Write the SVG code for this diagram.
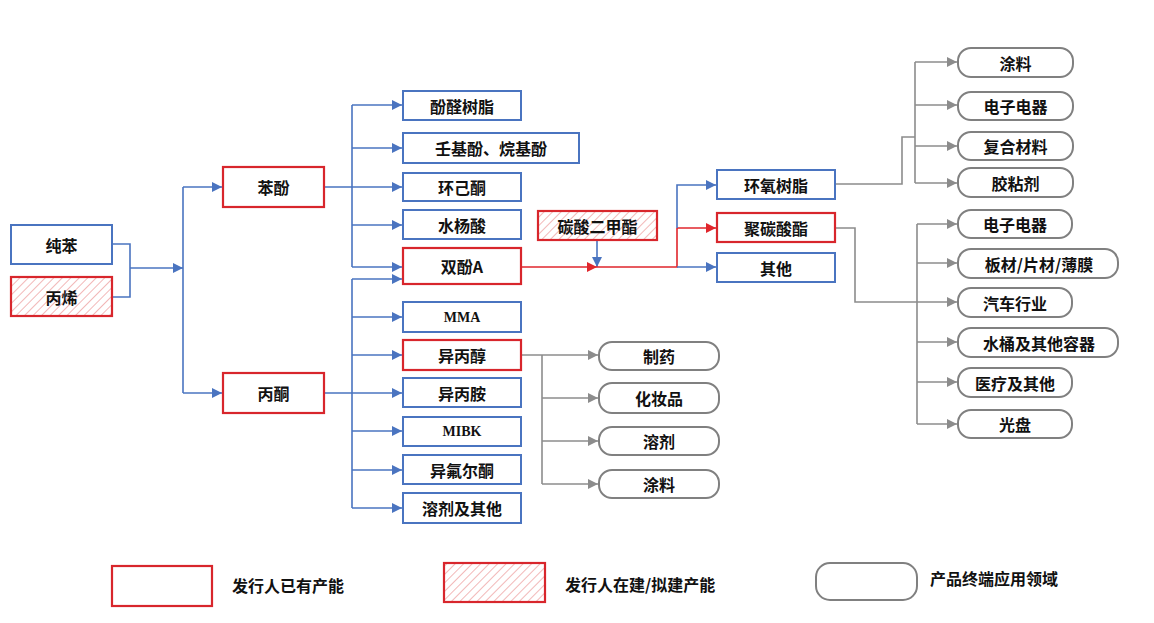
<svg xmlns="http://www.w3.org/2000/svg" width="1154" height="623" viewBox="0 0 1154 623">
<defs>
<pattern id="hatch" width="6" height="6" patternUnits="userSpaceOnUse" patternTransform="rotate(45)">
<rect width="6" height="6" fill="#fff"/>
<line x1="0" y1="0" x2="0" y2="6" stroke="#F2B8B8" stroke-width="2"/>
</pattern>
<marker id="ab" viewBox="0 0 10 10" refX="10" refY="5" markerWidth="11" markerHeight="10" markerUnits="userSpaceOnUse" orient="auto"><path d="M0,0 L10,5 L0,10 z" fill="#4A74C0"/></marker>
<marker id="ar" viewBox="0 0 10 10" refX="10" refY="5" markerWidth="11" markerHeight="10" markerUnits="userSpaceOnUse" orient="auto"><path d="M0,0 L10,5 L0,10 z" fill="#E0262C"/></marker>
<marker id="ag" viewBox="0 0 10 10" refX="10" refY="5" markerWidth="11" markerHeight="10" markerUnits="userSpaceOnUse" orient="auto"><path d="M0,0 L10,5 L0,10 z" fill="#8C8C8C"/></marker>
</defs>
<style>
.b{fill:#fff;stroke:#4A74C0;stroke-width:2}
.r{fill:#fff;stroke:#D8262C;stroke-width:2.2}
.h{fill:url(#hatch);stroke:#D8262C;stroke-width:2.2}
.g{fill:#fff;stroke:#808080;stroke-width:2}
text{font-family:"Noto Sans CJK SC","Noto Sans",sans-serif;font-size:16px;font-weight:bold;text-anchor:middle;dominant-baseline:central;fill:#111}
text.l{text-anchor:start}
text.s{font-family:"Liberation Serif",serif;font-size:14px}
.cb{fill:none;stroke:#4A74C0;stroke-width:1.6}
.cr{fill:none;stroke:#E0262C;stroke-width:1.6}
.cg{fill:none;stroke:#8C8C8C;stroke-width:1.6}
.mb{marker-end:url(#ab)}
.mr{marker-end:url(#ar)}
.mg{marker-end:url(#ag)}
</style>
<rect width="1154" height="623" fill="#fff"/>
<g id="connectors">
<path class="cb" d="M112,244 H130 V297 H112"/>
<path class="cb mb" d="M130,268 H183"/>
<path class="cb" d="M183,187 V393"/>
<path class="cb mb" d="M183,187 H222"/>
<path class="cb mb" d="M183,393 H222"/>
<path class="cb" d="M324,187 H352 M352,105 V267"/>
<path class="cb mb" d="M352,105 H402"/>
<path class="cb mb" d="M352,148 H402"/>
<path class="cb mb" d="M352,187 H402"/>
<path class="cb mb" d="M352,225 H402"/>
<path class="cb mb" d="M352,267 H402"/>
<path class="cb" d="M324,393 H352 M352,279 V508"/>
<path class="cb mb" d="M352,279 H402"/>
<path class="cb mb" d="M352,317 H402"/>
<path class="cb mb" d="M352,355 H402"/>
<path class="cb mb" d="M352,393 H402"/>
<path class="cb mb" d="M352,431 H402"/>
<path class="cb mb" d="M352,470 H402"/>
<path class="cb mb" d="M352,508 H402"/>
<path class="cb mb" d="M597,240 V267"/>
<path class="cr mr" d="M521,267 H597"/>
<path class="cr" d="M597,267 H677 V228"/>
<path class="cr mr" d="M677,228 H716"/>
<path class="cb mb" d="M677,267 H716"/>
<path class="cb mb" d="M677,228 V185 H716"/>
<path class="cg mg" d="M521,355 H598"/>
<path class="cg" d="M542,355 V484"/>
<path class="cg mg" d="M542,398 H598"/>
<path class="cg mg" d="M542,441 H598"/>
<path class="cg mg" d="M542,484 H598"/>
<path class="cg" d="M835,184 H902 V137 H915 M915,62 V183"/>
<path class="cg mg" d="M915,62 H957"/>
<path class="cg mg" d="M915,105 H957"/>
<path class="cg mg" d="M915,146 H957"/>
<path class="cg mg" d="M915,183 H957"/>
<path class="cg" d="M835,228 H855 V302 H917 M917,224 V424"/>
<path class="cg mg" d="M917,224 H957"/>
<path class="cg mg" d="M917,263 H957"/>
<path class="cg mg" d="M917,302 H957"/>
<path class="cg mg" d="M917,342 H957"/>
<path class="cg mg" d="M917,382 H957"/>
<path class="cg mg" d="M917,424 H957"/>
</g>
<g id="n-chunben"><rect class="b" x="11" y="225" width="101" height="39"/><text x="61.5" y="244.5">纯苯</text></g>
<g id="n-bingxi"><rect class="h" x="11" y="277" width="101" height="39"/><text x="61.5" y="296.5">丙烯</text></g>
<g id="n-benfen"><rect class="r" x="223" y="167" width="101" height="40"/><text x="273.5" y="187">苯酚</text></g>
<g id="n-bingtong"><rect class="r" x="223" y="373" width="101" height="40"/><text x="273.5" y="393">丙酮</text></g>
<g id="n-fenquan"><rect class="b" x="403" y="91" width="118" height="29"/><text x="462" y="105.5">酚醛树脂</text></g>
<g id="n-renjifen"><rect class="b" x="403" y="133" width="176" height="30"/><text x="491" y="148">壬基酚、烷基酚</text></g>
<g id="n-huanjitong"><rect class="b" x="403" y="173" width="118" height="28"/><text x="462" y="187">环己酮</text></g>
<g id="n-shuiyangsuan"><rect class="b" x="403" y="210" width="118" height="29"/><text x="462" y="224.5">水杨酸</text></g>
<g id="n-shuangfenA"><rect class="r" x="403" y="248" width="118" height="36"/><text x="462" y="266">双酚A</text></g>
<g id="n-mma"><rect class="b" x="403" y="302" width="118" height="30"/><text class="s" x="462" y="317">MMA</text></g>
<g id="n-yibingchun"><rect class="r" x="403" y="340" width="118" height="30"/><text x="462" y="355">异丙醇</text></g>
<g id="n-yibingan"><rect class="b" x="403" y="378" width="118" height="29"/><text x="462" y="392.5">异丙胺</text></g>
<g id="n-mibk"><rect class="b" x="403" y="417" width="118" height="29"/><text class="s" x="462" y="431.5">MIBK</text></g>
<g id="n-yifuertong"><rect class="b" x="403" y="455" width="118" height="29"/><text x="462" y="469.5">异氟尔酮</text></g>
<g id="n-rongjiqita"><rect class="b" x="403" y="493" width="118" height="30"/><text x="462" y="508">溶剂及其他</text></g>
<g id="n-tansuan"><rect class="h" x="538" y="211" width="119" height="29"/><text x="597.5" y="225.5">碳酸二甲酯</text></g>
<g id="n-huanyang"><rect class="b" x="717" y="170" width="118" height="29"/><text x="776" y="184.5">环氧树脂</text></g>
<g id="n-jutansuan"><rect class="r" x="717" y="213" width="118" height="29"/><text x="776" y="227.5">聚碳酸酯</text></g>
<g id="n-qita"><rect class="b" x="717" y="253" width="118" height="29"/><text x="776" y="267.5">其他</text></g>
<g id="n-zhiyao"><rect class="g" x="599" y="342" width="120" height="28" rx="13"/><text x="659" y="356">制药</text></g>
<g id="n-huazhuangpin"><rect class="g" x="599" y="383" width="120" height="30" rx="13"/><text x="659" y="398">化妆品</text></g>
<g id="n-rongji"><rect class="g" x="599" y="427" width="120" height="28" rx="13"/><text x="659" y="441">溶剂</text></g>
<g id="n-tuliao1"><rect class="g" x="599" y="470" width="120" height="28" rx="13"/><text x="659" y="484">涂料</text></g>
<g id="n-tuliao2"><rect class="g" x="958" y="48" width="115" height="29" rx="13"/><text x="1015.5" y="62.5">涂料</text></g>
<g id="n-dianzi1"><rect class="g" x="958" y="92" width="115" height="28" rx="13"/><text x="1015.5" y="106">电子电器</text></g>
<g id="n-fuhe"><rect class="g" x="958" y="132" width="115" height="28" rx="13"/><text x="1015.5" y="146">复合材料</text></g>
<g id="n-jiaonian"><rect class="g" x="958" y="168" width="115" height="29" rx="13"/><text x="1015.5" y="182.5">胶粘剂</text></g>
<g id="n-dianzi2"><rect class="g" x="958" y="210" width="114" height="28" rx="13"/><text x="1015" y="224">电子电器</text></g>
<g id="n-bancai"><rect class="g" x="958" y="249" width="160" height="29" rx="13"/><text x="1039" y="263.5">板材/片材/薄膜</text></g>
<g id="n-qiche"><rect class="g" x="958" y="288" width="114" height="29" rx="13"/><text x="1015" y="302.5">汽车行业</text></g>
<g id="n-shuitong"><rect class="g" x="958" y="328" width="160" height="29" rx="13"/><text x="1039" y="342.5">水桶及其他容器</text></g>
<g id="n-yiliao"><rect class="g" x="958" y="368" width="114" height="29" rx="13"/><text x="1015" y="382.5">医疗及其他</text></g>
<g id="n-guangpan"><rect class="g" x="958" y="410" width="114" height="28" rx="13"/><text x="1015" y="424">光盘</text></g>
<g id="legend">
<rect class="r" x="112" y="566" width="100" height="40"/>
<text class="l" x="232" y="585">发行人已有产能</text>
<rect class="h" x="444" y="563" width="101" height="39"/>
<text class="l" x="565" y="584">发行人在建/拟建产能</text>
<rect class="g" x="816" y="563" width="101" height="37" rx="14"/>
<text class="l" x="930" y="578">产品终端应用领域</text>
</g>
</svg>
